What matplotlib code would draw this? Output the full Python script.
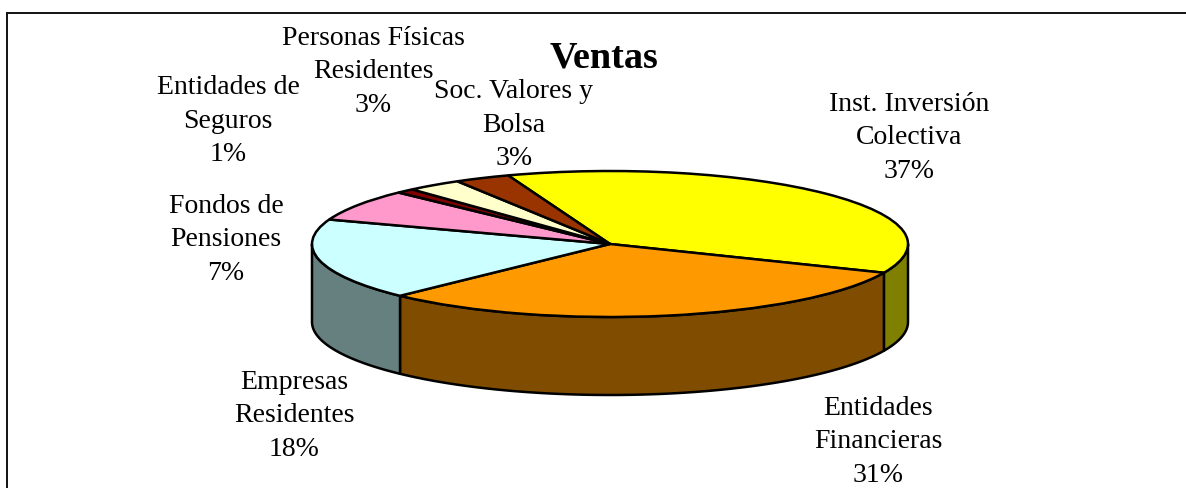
"""Ventas: fake 3D pie, pie top drawn by ax.pie and side wall built from the same shares."""
import numpy as np
import matplotlib
matplotlib.use("Agg")
import matplotlib.pyplot as plt
from matplotlib.patches import Polygon

plt.rcParams["font.family"] = ["Liberation Serif", "DejaVu Serif"]

LABELS = ["Inst. Inversión\nColectiva", "Entidades\nFinancieras", "Empresas\nResidentes",
          "Fondos de\nPensiones", "Entidades de\nSeguros", "Personas Físicas\nResidentes",
          "Soc. Valores y\nBolsa"]
SHARES = [37, 31, 18, 7, 1, 3, 3]
TOP_COLORS = ["#ffff00", "#ff9900", "#ccffff", "#ff99cc", "#800000", "#ffffcc", "#993300"]
WALL_COLORS = ["#808000", "#804d00", "#668080", "#804d66", "#400000", "#808066", "#4d1a00"]
# label centres in pixels
LABEL_POS = [(909, 138), (878, 442), (294, 416), (226, 240), (228, 121), (373, 72), (514, 125)]

W, H = 1186, 488
CX, CY, RX, RY, DEPTH = 610, 244, 298, 73, 78
START = 110

fig = plt.figure(figsize=(W / 100, H / 100), dpi=100)
bg = fig.add_axes([0, 0, 1, 1])
bg.set_xlim(0, W)
bg.set_ylim(H, 0)
bg.axis("off")

# frame: top and left only, both run off the picture
bg.plot([7, 7, W + 5], [H + 5, 13, 13], color="#111111", lw=1.4, solid_joinstyle="miter")

# side wall, only the front half (sin < 0) is visible
fracs = np.array(SHARES) / sum(SHARES)
edges = START - np.concatenate([[0], np.cumsum(fracs)]) * 360
for i, color in enumerate(WALL_COLORS):
    a0, a1 = edges[i + 1], edges[i]
    lo, hi = max(a0, -180), min(a1, 0)
    if lo >= hi:
        continue
    t = np.radians(np.linspace(lo, hi, 80))
    xs = CX + RX * np.cos(t)
    ys = CY - RY * np.sin(t)
    pts = np.r_[np.c_[xs, ys], np.c_[xs[::-1], ys[::-1] + DEPTH]]
    bg.add_patch(Polygon(pts, closed=True, fc=color, ec="black", lw=1.8, joinstyle="round", zorder=2))

# pie top: axes box sized so the unit circle lands on the ellipse
pie_ax = fig.add_axes([(CX - RX) / W, 1 - (CY + RY) / H, 2 * RX / W, 2 * RY / H])
pie_ax.pie(SHARES, colors=TOP_COLORS, startangle=START, counterclock=False, radius=1,
           wedgeprops={"edgecolor": "black", "linewidth": 1.8}, frame=False)
pie_ax.set_aspect("auto")
pie_ax.set_xlim(-1, 1)
pie_ax.set_ylim(-1, 1)
pie_ax.patch.set_visible(False)
for w in pie_ax.patches:
    w.set_clip_on(False)

bg.text(604, 58, "Ventas", ha="center", va="center", fontsize=27.5, fontweight="bold", color="black")
for label, share, (x, y) in zip(LABELS, SHARES, LABEL_POS):
    bg.text(x, y, f"{label}\n{share}%", ha="center", va="center", fontsize=20,
            linespacing=1.47, color="black", zorder=5)

fig.savefig("out.png", dpi=100, facecolor="white")
